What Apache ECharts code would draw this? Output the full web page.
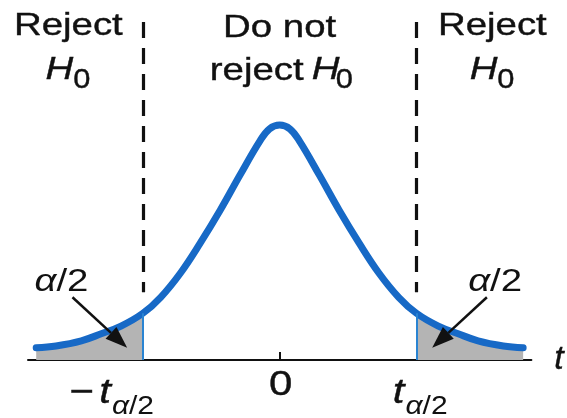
<!DOCTYPE html>
<html>
<head>
<meta charset="utf-8">
<script src="https://cdn.jsdelivr.net/npm/echarts@6/dist/echarts.min.js"></script>
<style>
  html, body { margin: 0; padding: 0; background: #ffffff; }
  #chart { width: 567px; height: 418px; }
</style>
</head>
<body>
<div id="chart"></div>
<script>
// Sampled t-distribution curve (critical value placed at t = ±2)
const tValues = [-3.56, -3.27, -2.9, -2.61, -2.32, -2.0, -1.74, -1.45, -1.16, -0.87, -0.58, -0.29, -0.15, 0,
                 0.15, 0.29, 0.58, 0.87, 1.16, 1.45, 1.74, 2.0, 2.32, 2.61, 2.9, 3.27, 3.56];
const density = [0.019, 0.022, 0.030, 0.041, 0.053, 0.073, 0.098, 0.136, 0.183, 0.234, 0.289, 0.342, 0.361, 0.367,
                 0.361, 0.342, 0.289, 0.234, 0.183, 0.136, 0.098, 0.073, 0.053, 0.041, 0.030, 0.022, 0.019];
const criticalT = 2;

// Axis tick labels: main part and subscript
const tickValues = [-2, 0, 2];
const tickMain = ['\u2212t', '0', 't'];
const tickSub = ['\u03b1/2', '', '\u03b1/2'];

// Region headings
const regionX = [-3.09, 0, 3.11];
const regionTop = ['Reject', 'Do not', 'Reject'];

const curve = tValues.map((t, i) => [t, density[i]]);
const leftTail = curve.filter(p => p[0] <= -criticalT);
const rightTail = curve.filter(p => p[0] >= criticalT);
const cutDensity = density[tValues.indexOf(criticalT)];

const FONT = '"Liberation Sans", Arial, Helvetica, sans-serif';
const INK = '#111111';
const BLUE = '#1769c6';
const SX = 1.2;
const STROKE = 0.4;

const chart = echarts.init(document.getElementById('chart'), null, { renderer: 'canvas' });

const tailStyle = {
  type: 'line', smooth: 0.4, symbol: 'none', silent: true,
  lineStyle: { width: 0 }, areaStyle: { color: '#b4b4b4', opacity: 1 }, z: 1
};

chart.setOption({
  animation: false,
  backgroundColor: '#ffffff',
  grid: { left: 28, right: 32, top: 8, bottom: 58, containLabel: false },
  xAxis: {
    type: 'value', min: -3.68, max: 3.68,
    name: 't', nameLocation: 'end', nameGap: 23,
    nameTextStyle: {
      fontFamily: FONT, fontStyle: 'italic', fontSize: 34, color: INK, verticalAlign: 'middle',
      textBorderColor: INK, textBorderWidth: STROKE
    },
    axisLine: { show: true, onZero: false, lineStyle: { color: INK, width: 2 } },
    axisTick: { show: true, customValues: [0], inside: true, length: 8, lineStyle: { color: INK, width: 2 } },
    axisLabel: { show: false },
    splitLine: { show: false }
  },
  yAxis: { type: 'value', min: 0, max: 0.55, show: false, splitLine: { show: false } },
  series: [
    Object.assign({ name: 'leftTail', data: leftTail }, tailStyle),
    Object.assign({ name: 'rightTail', data: rightTail }, tailStyle),
    {
      name: 'density', type: 'line', data: curve, smooth: 0.4, symbol: 'none', silent: true,
      lineStyle: { color: BLUE, width: 7, cap: 'round' }, z: 3,
      markLine: {
        silent: true, symbol: 'none', label: { show: false },
        data: [
          [{ coord: [-criticalT, 0.528], lineStyle: { color: INK, width: 3.2, type: [16, 10] } }, { coord: [-criticalT, 0.106] }],
          [{ coord: [criticalT, 0.528], lineStyle: { color: INK, width: 3.2, type: [16, 10] } }, { coord: [criticalT, 0.106] }],
          [{ coord: [-criticalT, 0], lineStyle: { color: '#2a84d2', width: 2, type: 'solid' } }, { coord: [-criticalT, cutDensity] }],
          [{ coord: [criticalT, 0], lineStyle: { color: '#2a84d2', width: 2, type: 'solid' } }, { coord: [criticalT, cutDensity] }]
        ]
      }
    }
  ]
});

// Text helper: y is the vertical centre of capital letters
function txt(x, y, text, size, italic, align, sx) {
  return {
    type: 'text', x: x, y: y, scaleX: sx || SX, z: 100, silent: true,
    style: {
      text: text, fill: INK, stroke: INK, lineWidth: STROKE,
      align: align || 'center', verticalAlign: 'middle',
      font: (italic ? 'italic ' : '') + size + 'px ' + FONT
    }
  };
}
function fracText(x, y, size, align) {
  return {
    type: 'text', x: x, y: y, scaleX: SX, z: 100, silent: true,
    style: {
      text: '{a|\u03b1}{b|/2}', align: align, verticalAlign: 'middle',
      rich: {
        a: { font: 'italic ' + size + 'px ' + FONT, fill: INK, textStroke: INK, textStrokeWidth: STROKE },
        b: { font: size + 'px ' + FONT, fill: INK, textStroke: INK, textStrokeWidth: STROKE }
      }
    }
  };
}
const px = (t, d) => chart.convertToPixel({ gridIndex: 0 }, [t, d]);

const g = [];

// Region headings
regionX.forEach((t, i) => {
  const cx = px(t, 0)[0];
  g.push(txt(cx, i === 1 ? 28.5 : 26.5, regionTop[i], 32, false, 'center'));
  if (i === 1) {
    g.push(txt(cx + 24, 70.8, 'reject', 32, false, 'right'));
    g.push(txt(cx + 32, 70, 'H', 32, true, 'left'));
    g.push(txt(cx + 56, 80, '0', 28, false, 'left', 1.1));
  } else {
    g.push(txt(cx + 5, 70, 'H', 32, true, 'right'));
    g.push(txt(cx + 5, 80, '0', 28, false, 'left', 1.1));
  }
});

// Tail annotations with arrows
const arrows = [
  { from: [-3.03, 0.098], to: [-2.23, 0.019], labelAt: -3.19 },
  { from: [3.03, 0.098], to: [2.23, 0.019], labelAt: 3.15 }
];
arrows.forEach(a => {
  const p0 = px(a.from[0], a.from[1]);
  const p1 = px(a.to[0], a.to[1]);
  const dx = p1[0] - p0[0], dy = p1[1] - p0[1];
  const len = Math.sqrt(dx * dx + dy * dy);
  const ux = dx / len, uy = dy / len;
  const L = 22, W = 8;
  const bx = p1[0] - ux * L, by = p1[1] - uy * L;
  g.push({ type: 'line', z: 90, silent: true,
    shape: { x1: p0[0], y1: p0[1], x2: bx, y2: by },
    style: { stroke: INK, lineWidth: 2.5 } });
  g.push({ type: 'polygon', z: 90, silent: true,
    shape: { points: [[p1[0], p1[1]], [bx - uy * W, by + ux * W], [bx + uy * W, by - ux * W]] },
    style: { fill: INK } });
  g.push(fracText(px(a.labelAt, 0)[0], 281.8, 32, 'center'));
});

// Axis tick labels with subscripts
tickValues.forEach((t, i) => {
  const cx = px(t, 0)[0];
  if (!tickSub[i]) {
    g.push(txt(cx + 1, 385, tickMain[i], 35, false, 'center'));
    return;
  }
  const off = t < 0 ? -32 : -12;
  if (t < 0) {
    g.push(txt(cx + off - 17, 393, '\u2212', 35, false, 'right'));
    g.push(txt(cx + off, 393, 't', 35, true, 'right'));
  } else {
    g.push(txt(cx + off, 393, 't', 35, true, 'right'));
  }
  g.push(fracText(cx + off + 1, 407, 25, 'left'));
});

chart.setOption({ graphic: g });
</script>
</body>
</html>
